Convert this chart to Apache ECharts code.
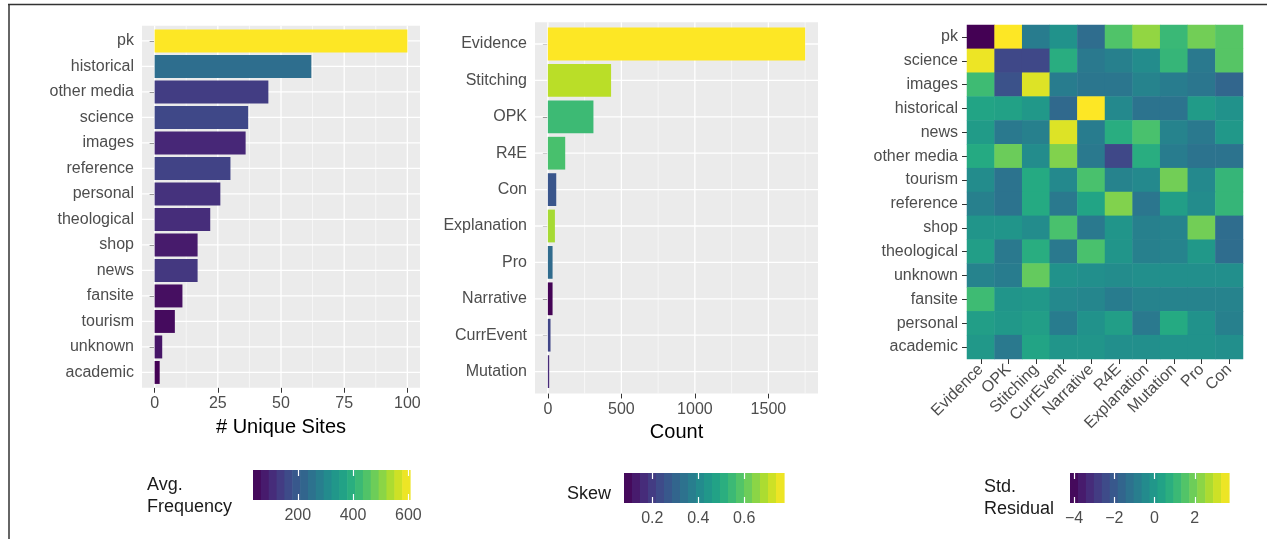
<!DOCTYPE html>
<html>
<head>
<meta charset="utf-8">
<script src="https://cdn.jsdelivr.net/npm/echarts@6/dist/echarts.min.js"></script>
<style>
  html, body { margin: 0; padding: 0; background: #ffffff; }
  #chart { width: 1267px; height: 539px; }
</style>
</head>
<body>
<div id="chart"></div>
<script>
// ---------- Panel 1: unique sites per site type ----------
const siteTypes = ['pk', 'historical', 'other media', 'science', 'images', 'reference', 'personal',
  'theological', 'shop', 'news', 'fansite', 'tourism', 'unknown', 'academic'];
const uniqueSites = [100, 62, 45, 37, 36, 30, 26, 22, 17, 17, 11, 8, 3, 2];
const avgFrequency = [606, 242, 140, 160, 100, 150, 120, 110, 80, 130, 60, 55, 70, 40];
const siteTicks = [0, 25, 50, 75, 100];
const siteMinorTicks = [12.5, 37.5, 62.5, 87.5];

// ---------- Panel 2: counts per argument type ----------
const argTypes = ['Evidence', 'Stitching', 'OPK', 'R4E', 'Con', 'Explanation', 'Pro', 'Narrative',
  'CurrEvent', 'Mutation'];
const argCounts = [1750, 430, 310, 118, 57, 48, 32, 32, 18, 9];
const argSkew = [0.773, 0.70, 0.55, 0.57, 0.26, 0.68, 0.32, 0.08, 0.22, 0.16];
const countTicks = [0, 500, 1000, 1500];
const countMinorTicks = [250, 750, 1250, 1750];

// ---------- Panel 3: standardized residuals, site type x argument type ----------
const residRows = ['pk', 'science', 'images', 'historical', 'news', 'other media', 'tourism',
  'reference', 'shop', 'theological', 'unknown', 'fansite', 'personal', 'academic'];
const residCols = ['Evidence', 'OPK', 'Stitching', 'CurrEvent', 'Narrative', 'R4E', 'Explanation',
  'Mutation', 'Pro', 'Con'];
const stdResidual = [
  [-4.2, 3.7, -0.9, -0.2, -1.4, 1.5, 2.4, 1.1, 2.0, 1.6],   // pk
  [3.5, -2.5, -2.5, 0.7, -1.0, -0.8, -0.4, 1.0, -1.0, 1.6], // science
  [1.2, -2.2, 3.3, -0.9, -1.1, -1.1, -0.7, -0.9, -1.1, -1.6], // images
  [0.4, 0.3, 0.0, -1.5, 3.7, -0.5, -1.2, -1.2, 0.1, -0.2], // historical
  [0.1, -1.0, -0.8, 3.3, -0.9, 0.7, 1.4, -0.7, -1.0, 0.0], // news
  [0.6, 1.9, -0.4, 2.2, -1.0, -2.5, 0.7, -0.9, -1.2, -1.2], // other media
  [-0.4, -1.2, 0.6, -0.5, 1.4, -0.7, -0.5, 2.0, -0.5, 1.0], // tourism
  [-0.8, -1.2, 0.6, -1.0, 0.4, 2.2, -1.1, 0.2, -0.4, 1.0], // reference
  [-0.1, -0.1, -0.4, 1.4, -1.0, -0.1, -0.8, -0.7, 2.0, -1.4], // shop
  [0.2, -1.0, 0.7, -1.0, 1.4, -0.1, -0.8, -0.7, 0.0, -1.4], // theological
  [-0.7, -0.9, 1.8, -0.2, -0.3, -0.4, -0.3, -0.3, -0.3, -0.3], // unknown
  [1.2, -0.1, 0.0, -0.5, -0.6, -0.9, -0.7, -0.7, -0.7, -0.7], // fansite
  [0.2, 0.0, 0.2, -0.9, -0.2, 0.2, -1.0, 0.6, -0.2, -0.8], // personal
  [0.0, -1.0, 0.4, -0.1, -0.1, -0.3, -0.3, -0.2, -0.2, -0.3]  // academic
];

// ---------- colour scales ----------
const freqRange = [38, 606];
const freqTicks = [200, 400, 600];
const skewRange = [0.077, 0.773];
const skewTicks = [0.2, 0.4, 0.6];
const residRange = [-4.2, 3.7];
const residTicks = [-4, -2, 0, 2];

const VIRIDIS = ['#440154', '#482475', '#414487', '#355f8d', '#2a788e', '#21918c',
  '#22a884', '#44bf70', '#7ad151', '#bddf26', '#fde725'];

function hexToRgb(h) {
  return [parseInt(h.slice(1, 3), 16), parseInt(h.slice(3, 5), 16), parseInt(h.slice(5, 7), 16)];
}
function viridis(t) {
  t = Math.max(0, Math.min(1, t));
  const p = t * (VIRIDIS.length - 1);
  const i = Math.min(VIRIDIS.length - 2, Math.floor(p));
  const f = p - i;
  const a = hexToRgb(VIRIDIS[i]), b = hexToRgb(VIRIDIS[i + 1]);
  const c = a.map((v, k) => Math.round(v + (b[k] - v) * f));
  return 'rgb(' + c.join(',') + ')';
}
function scaleColor(v, range) {
  return viridis((v - range[0]) / (range[1] - range[0]));
}

const FONT = 'Liberation Sans, Arial, sans-serif';
const AXIS_TEXT = '#4D4D4D';
const TICK = '#333333';
const PANEL_BG = '#EBEBEB';
// discrete axes get 0.6 of a category of padding at each end (0.5 from the band, 0.1 extra)
const EXTRA_PAD = 0.1;

// ---------- helpers ----------
function catAxis(gridIndex, data, extra) {
  return Object.assign({
    type: 'category', gridIndex: gridIndex, data: data, inverse: true,
    axisLine: { show: false },
    axisTick: { show: true, length: 5, lineStyle: { color: TICK, width: 1 }, alignWithLabel: true },
    axisLabel: { color: AXIS_TEXT, fontSize: 16, fontFamily: FONT, margin: 8 },
    splitLine: { show: false }
  }, extra || {});
}
function valueAxis(gridIndex, min, max, ticks, name, nameGap, offset) {
  return {
    type: 'value', gridIndex: gridIndex, min: min, max: max, offset: offset,
    axisLine: { show: false },
    axisTick: { show: true, length: 5, customValues: ticks, lineStyle: { color: TICK, width: 1 } },
    axisLabel: { color: AXIS_TEXT, fontSize: 16, fontFamily: FONT, margin: 8, customValues: ticks,
      formatter: v => String(v) },
    splitLine: { show: false },
    name: name, nameLocation: 'middle', nameGap: nameGap,
    nameTextStyle: { color: '#000', fontSize: 20, fontFamily: FONT }
  };
}
// grey panel behind a bar chart, padded past the outer categories
function panelSeries(xi, yi) {
  return {
    type: 'custom', xAxisIndex: xi, yAxisIndex: yi, z: 0, silent: true, clip: false,
    encode: { x: 0, y: 1 },
    data: [[0, 0]],
    renderItem: function (params, api) {
      const cs = params.coordSys;
      const pad = EXTRA_PAD * api.size([0, 1])[1];
      return {
        type: 'rect',
        shape: { x: cs.x, y: cs.y - pad, width: cs.width, height: cs.height + 2 * pad },
        style: { fill: PANEL_BG }
      };
    }
  };
}
// white grid lines drawn through the axis scales
function vGridSeries(xi, yi, majors, minors) {
  const data = majors.map(v => [v, 0, 1]).concat(minors.map(v => [v, 0, 0]));
  return {
    type: 'custom', xAxisIndex: xi, yAxisIndex: yi, z: 1, silent: true, clip: false,
    encode: { x: 0 },
    data: data,
    renderItem: function (params, api) {
      const cs = params.coordSys;
      const pad = EXTRA_PAD * api.size([0, 1])[1];
      const x = api.coord([api.value(0), 0])[0];
      return {
        type: 'line',
        shape: { x1: x, y1: cs.y - pad, x2: x, y2: cs.y + cs.height + pad },
        style: { stroke: '#ffffff', lineWidth: api.value(2) ? 1.3 : 0.6 }
      };
    }
  };
}
function hGridSeries(xi, yi, cats) {
  return {
    type: 'custom', xAxisIndex: xi, yAxisIndex: yi, z: 1, silent: true, clip: false,
    encode: { x: 0, y: 1 },
    data: cats.map((c, i) => [0, i]),
    renderItem: function (params, api) {
      const cs = params.coordSys;
      const y = api.coord([0, api.value(1)])[1];
      return {
        type: 'line',
        shape: { x1: cs.x, y1: y, x2: cs.x + cs.width, y2: y },
        style: { stroke: '#ffffff', lineWidth: 1.3 }
      };
    }
  };
}
// stepped colour bar (20 bins) drawn on its own value axis
function colorBarSeries(xi, yi, range) {
  const nbin = 20;
  const bins = [];
  for (let i = 0; i < nbin; i++) bins.push([i]);
  return {
    type: 'custom', xAxisIndex: xi, yAxisIndex: yi, z: 2, silent: true,
    encode: { x: -1, y: -1 },
    data: bins,
    renderItem: function (params, api) {
      const i = api.value(0);
      const step = (range[1] - range[0]) / nbin;
      const lo = range[0] + i * step, hi = lo + step;
      const p0 = api.coord([lo, 0]), p1 = api.coord([hi, 1]);
      return {
        type: 'rect',
        shape: { x: p0[0], y: p1[1], width: p1[0] - p0[0] + 0.6, height: p0[1] - p1[1] },
        style: { fill: scaleColor((lo + hi) / 2, range) }
      };
    }
  };
}
function barAxisX(gridIndex, range, ticks, position, withLabels, margin) {
  return {
    type: 'value', gridIndex: gridIndex, min: range[0], max: range[1], position: position,
    axisLine: { show: false },
    axisTick: { show: true, inside: true, length: 6, customValues: ticks,
      lineStyle: { color: '#ffffff', width: 1.2 } },
    axisLabel: { show: withLabels, color: AXIS_TEXT, fontSize: 16, fontFamily: FONT, margin: margin,
      customValues: ticks,
      formatter: v => (v < 0 ? '\u2212' + Math.abs(v) : String(v)) },
    splitLine: { show: false }, z: 3
  };
}
function hiddenY(gridIndex) {
  return { type: 'value', gridIndex: gridIndex, min: 0, max: 1, show: false };
}

const heatData = [];
stdResidual.forEach((row, r) => row.forEach((v, c) => heatData.push([c, r, v])));

const option = {
  animation: false,
  backgroundColor: '#ffffff',
  grid: [
    { left: 142, top: 28.2, width: 278, height: 357 },
    { left: 535, top: 25.8, width: 283, height: 364 },
    { left: 967, top: 25, width: 276, height: 334 },
    { left: 253, top: 470, width: 157, height: 30 },
    { left: 624, top: 473, width: 160, height: 30 },
    { left: 1070, top: 473, width: 159, height: 30 }
  ],
  xAxis: [
    valueAxis(0, -5, 105, siteTicks, '# Unique Sites', 30, 2.55),
    valueAxis(1, -87.5, 1837.5, countTicks, 'Count', 28, 3.64),
    {
      type: 'category', gridIndex: 2, data: residCols,
      axisLine: { show: false },
      axisTick: { show: true, length: 5, alignWithLabel: true, lineStyle: { color: TICK, width: 1 } },
      axisLabel: { color: AXIS_TEXT, fontSize: 16, fontFamily: FONT, rotate: 45, margin: 8, interval: 0 },
      splitLine: { show: false }
    },
    barAxisX(3, freqRange, freqTicks, 'bottom', true, 8),
    barAxisX(3, freqRange, freqTicks, 'top', false, 8),
    barAxisX(4, skewRange, skewTicks, 'bottom', true, 8),
    barAxisX(4, skewRange, skewTicks, 'top', false, 8),
    barAxisX(5, residRange, residTicks, 'bottom', true, 8),
    barAxisX(5, residRange, residTicks, 'top', false, 8)
  ],
  yAxis: [
    catAxis(0, siteTypes),
    catAxis(1, argTypes),
    catAxis(2, residRows, { axisLabel: { color: AXIS_TEXT, fontSize: 16, fontFamily: FONT, margin: 9, interval: 0 } }),
    hiddenY(3), hiddenY(4), hiddenY(5)
  ],
  visualMap: [{
    show: false, type: 'continuous', seriesIndex: 8, dimension: 2,
    min: residRange[0], max: residRange[1], inRange: { color: VIRIDIS }
  }],
  series: [
    panelSeries(0, 0),                              // 0
    vGridSeries(0, 0, siteTicks, siteMinorTicks),   // 1
    hGridSeries(0, 0, siteTypes),                   // 2
    {                                               // 3
      type: 'bar', xAxisIndex: 0, yAxisIndex: 0, z: 2, barCategoryGap: '10%',
      data: uniqueSites.map((v, i) => ({ value: v, itemStyle: { color: scaleColor(avgFrequency[i], freqRange) } }))
    },
    panelSeries(1, 1),                               // 4
    vGridSeries(1, 1, countTicks, countMinorTicks),  // 5
    hGridSeries(1, 1, argTypes),                     // 6
    {                                                // 7
      type: 'bar', xAxisIndex: 1, yAxisIndex: 1, z: 2, barCategoryGap: '10%',
      data: argCounts.map((v, i) => ({ value: v, itemStyle: { color: scaleColor(argSkew[i], skewRange) } }))
    },
    {                                                // 8
      type: 'heatmap', xAxisIndex: 2, yAxisIndex: 2, data: heatData,
      itemStyle: { borderWidth: 0 }, emphasis: { disabled: true }
    },
    colorBarSeries(3, 3, freqRange),
    colorBarSeries(5, 4, skewRange),
    colorBarSeries(7, 5, residRange)
  ],
  graphic: [
    { type: 'line', shape: { x1: 8, y1: 4.5, x2: 1267, y2: 4.5 }, style: { stroke: '#333', lineWidth: 1.5 } },
    { type: 'line', shape: { x1: 9, y1: 4, x2: 9, y2: 539 }, style: { stroke: '#333', lineWidth: 1.5 } },
    { type: 'text', left: 147, top: 474,
      style: { text: 'Avg.\nFrequency', font: '18px ' + FONT, fill: '#1a1a1a', lineHeight: 22 } },
    { type: 'text', left: 567, top: 485,
      style: { text: 'Skew', font: '18px ' + FONT, fill: '#1a1a1a' } },
    { type: 'text', left: 984, top: 476,
      style: { text: 'Std.\nResidual', font: '18px ' + FONT, fill: '#1a1a1a', lineHeight: 22 } }
  ]
};

const chart = echarts.init(document.getElementById('chart'), null, { renderer: 'canvas' });
chart.setOption(option);
</script>
</body>
</html>
